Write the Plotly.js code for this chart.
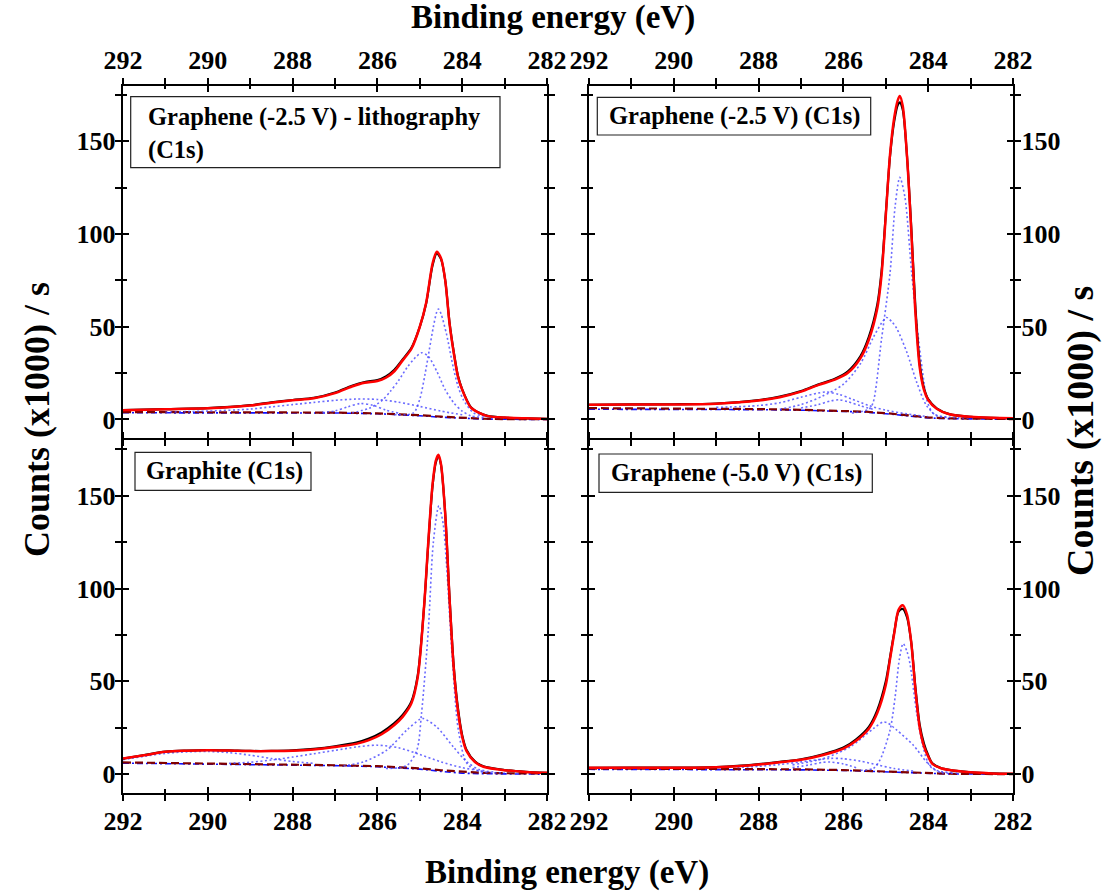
<!DOCTYPE html>
<html>
<head>
<meta charset="utf-8">
<script src="https://cdn.plot.ly/plotly-3.0.1.min.js"></script>
<style>
html,body{margin:0;padding:0;background:#fff;}
#chart{width:1106px;height:892px;}
</style>
</head>
<body>
<div id="chart"></div>
<script>
// ---------------- DATA (binding energy in eV, counts in x1000/s) ----------------
// Panel 1: Graphene (-2.5 V) - lithography
const tlE    = [292, 291, 290, 289, 288.5, 288, 287.5, 287, 286.6, 286.3, 286.0, 285.8, 285.6, 285.4, 285.2, 285.0, 284.85, 284.7, 284.6, 284.5, 284.4, 284.3, 284.2, 284.1, 284.0, 283.8, 283.6, 283.4, 283.0, 282.5, 282];
const tlData = [5.0, 5.6, 6.1, 7.7, 9.2, 10.5, 11.6, 14.5, 18.2, 20.2, 21.2, 23.2, 26.8, 32.5, 38.5, 50.0, 62.5, 83.0, 89.5, 86.5, 75.0, 52.5, 36.5, 23.5, 16.2, 6.8, 3.6, 1.9, 1.0, 0.6, 0.3];
const tlFit  = [5.0, 5.5, 6.0, 7.5, 9.0, 10.3, 11.4, 14.2, 17.8, 19.8, 20.7, 22.5, 26.0, 32.0, 38.0, 50.0, 63.0, 84.0, 90.5, 87.0, 75.0, 52.0, 36.0, 23.0, 16.0, 6.5, 3.5, 1.8, 1.0, 0.6, 0.3];
const tlC1E  = [285.6, 285.15, 285.0, 284.88, 284.78, 284.68, 284.6, 284.56, 284.5, 284.37, 284.21, 284.1, 283.97, 283.73, 283.4, 283.0];
const tlC1   = [2.6, 3.5, 11.0, 24.0, 37.0, 50.0, 58.0, 59.6, 57.0, 46.0, 28.0, 18.0, 10.5, 3.5, 1.5, 0.8];
const tlC2E  = [286.6, 286.2, 285.9, 285.7, 285.5, 285.3, 285.1, 284.95, 284.8, 284.6, 284.4, 284.2, 284.0, 283.8, 283.5];
const tlC2   = [3.5, 6.0, 10.0, 15.0, 21.0, 28.0, 33.5, 36.0, 34.0, 26.0, 16.0, 9.0, 4.5, 2.0, 1.0];
const tlC3E  = [291, 290, 289, 288.5, 288, 287.5, 287, 286.5, 286, 285.5, 285, 284.5, 284];
const tlC3   = [4.0, 4.5, 5.6, 6.8, 8.0, 9.2, 10.3, 11.0, 10.8, 9.3, 7.0, 4.5, 2.5];
const tlC4E  = [287.3, 287.0, 286.7, 286.4, 286.1, 285.8, 285.5];
const tlC4   = [3.8, 4.6, 6.8, 8.6, 7.6, 5.0, 3.4];

// background curves (shared energy grid)
const bgE    = [292, 290, 288, 287, 286, 285.5, 285, 284.5, 284, 283.5, 283, 282];
const tlBg   = [4.0, 4.0, 3.9, 3.7, 3.3, 2.9, 2.3, 1.5, 0.8, 0.4, 0.2, 0.1];
const tlBase = [3.6, 3.7, 3.7, 3.5, 3.1, 2.7, 2.0, 1.2, 0.5, 0.2, 0.1, 0.0];

// Panel 2: Graphene (-2.5 V)
const trE    = [292, 291, 290, 289, 288, 287.5, 287, 286.6, 286.2, 285.9, 285.6, 285.4, 285.2, 285.1, 285.0, 284.9, 284.8, 284.72, 284.67, 284.6, 284.5, 284.4, 284.3, 284.2, 284.1, 284.0, 283.8, 283.5, 283.0, 282.5, 282];
const trData = [7.9, 8.1, 8.2, 8.6, 10.4, 12.3, 15.3, 18.8, 22.0, 25.8, 34.0, 44.5, 62.0, 80.0, 111.0, 142.0, 161.0, 169.5, 171.0, 167.0, 142.0, 104.0, 60.0, 30.0, 17.0, 11.0, 6.0, 2.9, 1.4, 0.9, 0.7];
const trFit  = [7.9, 8.0, 8.1, 8.5, 10.2, 12.0, 15.0, 18.5, 21.5, 25.0, 33.0, 43.0, 60.0, 78.0, 110.0, 143.0, 163.0, 172.0, 174.5, 169.0, 142.0, 102.0, 57.0, 28.0, 16.0, 10.5, 5.8, 2.8, 1.4, 0.9, 0.7];
const trC1E  = [285.8, 285.4, 285.3, 285.1, 284.9, 284.78, 284.67, 284.55, 284.39, 284.23, 284.1, 284.04, 283.87, 283.5, 283.0];
const trC1   = [3.5, 5.5, 9.0, 43.5, 79.0, 115.0, 130.6, 120.0, 79.0, 43.5, 20.0, 11.0, 3.0, 1.2, 0.8];
const trC2E  = [287.5, 287.0, 286.5, 286.0, 285.6, 285.3, 285.1, 284.98, 284.85, 284.74, 284.5, 284.27, 284.04, 283.8, 283.5];
const trC2   = [5.5, 8.0, 12.5, 19.0, 30.0, 44.0, 52.0, 55.0, 52.5, 49.0, 36.0, 20.0, 7.5, 2.0, 1.0];
const trC3E  = [289, 288, 287.5, 287, 286.6, 286.4, 286.1, 285.8, 285.4, 285.0, 284.5, 284.0];
const trC3   = [6.5, 7.5, 9.0, 12.0, 14.2, 14.8, 13.5, 11.0, 7.5, 5.0, 3.0, 1.5];
const trC4E  = [287.0, 286.6, 286.3, 286.1, 285.9, 285.6, 285.3];
const trC4   = [6.2, 8.0, 10.0, 10.6, 9.6, 7.4, 5.5];
const trBg   = [6.1, 6.0, 5.6, 5.2, 4.7, 4.2, 3.4, 2.2, 1.1, 0.6, 0.4, 0.2];
const trBase = [5.5, 5.5, 5.3, 5.0, 4.5, 4.0, 3.1, 1.9, 0.8, 0.4, 0.2, 0.1];

// Panel 3: Graphite
const blE    = [292, 291.5, 291, 290.5, 290, 289.5, 289, 288.5, 288, 287.5, 287, 286.5, 286.2, 285.9, 285.6, 285.4, 285.2, 285.05, 284.9, 284.8, 284.7, 284.62, 284.56, 284.5, 284.4, 284.3, 284.2, 284.1, 284.0, 283.9, 283.7, 283.5, 283.0, 282.5, 282];
const blData = [8.4, 10.3, 12.1, 12.7, 13.0, 12.8, 12.5, 12.5, 12.8, 13.6, 15.0, 17.0, 19.2, 22.5, 27.5, 32.0, 39.0, 53.0, 90.0, 124.0, 155.0, 168.0, 171.0, 166.5, 140.0, 96.0, 58.5, 35.5, 21.0, 13.2, 6.9, 4.2, 2.2, 1.2, 0.7];
const blFit  = [8.4, 10.2, 12.0, 12.6, 12.9, 12.7, 12.4, 12.4, 12.6, 13.3, 14.6, 16.3, 18.3, 21.5, 26.5, 31.0, 38.0, 52.0, 90.0, 125.0, 156.0, 169.0, 172.0, 167.0, 140.0, 95.0, 57.0, 34.0, 20.0, 12.5, 6.5, 4.0, 2.1, 1.2, 0.7];
const blC1E  = [285.8, 285.31, 285.07, 284.96, 284.8, 284.68, 284.55, 284.45, 284.37, 284.25, 284.09, 283.89, 283.6, 283.0];
const blC1   = [3.0, 4.6, 12.9, 32.6, 77.4, 125.0, 144.6, 135.0, 113.0, 68.4, 23.7, 5.8, 1.5, 0.7];
const blC2E  = [286.8, 286.33, 285.78, 285.31, 285.0, 284.92, 284.6, 284.21, 283.89, 283.6, 283.2];
const blC2   = [4.5, 6.6, 12.9, 23.7, 29.5, 30.0, 25.4, 14.7, 6.6, 2.5, 1.0];
const blC3E  = [292, 291.5, 291, 290.5, 290, 289.5, 289, 288.5, 288, 287.5];
const blC3   = [7.8, 9.6, 11.2, 12.0, 12.2, 11.6, 10.2, 8.4, 6.8, 5.8];
const blC4E  = [289.5, 289, 288.5, 288, 287.5, 287, 286.5, 286, 285.5, 285, 284.5, 284, 283.5];
const blC4   = [5.8, 6.4, 7.6, 9.2, 11.0, 12.8, 14.6, 15.6, 14.2, 10.6, 6.6, 3.5, 1.5];
const blBg   = [6.3, 5.8, 5.2, 4.8, 4.3, 3.8, 3.1, 2.1, 1.2, 0.7, 0.5, 0.3];
const blBase = [5.9, 5.5, 5.0, 4.6, 4.0, 3.5, 2.7, 1.5, 0.5, 0.2, 0.1, 0.0];

// Panel 4: Graphene (-5.0 V)
const brE    = [292, 291, 290, 289, 288.5, 288, 287.5, 287, 286.5, 286, 285.7, 285.4, 285.2, 285.0, 284.9, 284.8, 284.7, 284.6, 284.5, 284.4, 284.3, 284.2, 284.1, 284.0, 283.9, 283.7, 283.5, 283, 282.5, 282];
const brData = [3.4, 3.5, 3.5, 3.8, 4.4, 5.4, 6.6, 8.0, 10.6, 14.3, 18.8, 25.5, 34.5, 50.0, 63.0, 76.5, 87.5, 89.0, 84.5, 71.0, 46.5, 26.5, 16.5, 10.2, 5.8, 3.3, 2.3, 1.0, 0.4, 0.2];
const brFit  = [3.4, 3.4, 3.4, 3.7, 4.2, 5.2, 6.4, 7.7, 10.2, 13.8, 18.0, 24.5, 33.0, 48.0, 62.0, 76.0, 88.5, 91.0, 86.0, 71.0, 45.0, 25.0, 15.0, 9.5, 5.5, 3.2, 2.2, 1.0, 0.4, 0.2];
const brC1E  = [285.6, 285.3, 285.14, 284.9, 284.78, 284.68, 284.59, 284.5, 284.43, 284.27, 284.12, 283.96, 283.7, 283.3];
const brC1   = [2.0, 3.0, 7.5, 23.7, 41.6, 62.0, 70.3, 66.0, 59.5, 32.6, 14.7, 4.3, 0.9, 0.5];
const brC2E  = [287.2, 286.47, 285.84, 285.29, 285.06, 284.95, 284.74, 284.35, 284.04, 283.8, 283.4];
const brC2   = [5.0, 8.4, 14.7, 24.6, 28.1, 27.5, 23.7, 15.6, 6.6, 2.0, 0.8];
const brC3E  = [288.5, 288, 287.5, 287, 286.6, 286.3, 286, 285.6, 285.2, 284.8, 284.3];
const brC3   = [3.6, 4.2, 5.2, 6.6, 7.8, 8.5, 8.3, 7.0, 5.0, 3.0, 1.5];
const brC4E  = [287.2, 286.8, 286.5, 286.3, 286.0, 285.7];
const brC4   = [3.5, 5.0, 6.3, 6.5, 5.5, 3.5];
const brBg   = [3.0, 3.0, 2.8, 2.6, 2.2, 1.8, 1.3, 0.8, 0.4, 0.2, 0.1, 0.0];
const brBase = [2.6, 2.6, 2.5, 2.3, 2.0, 1.6, 1.1, 0.6, 0.25, 0.1, 0.05, 0.0];

const panelLabels = [
  ["Graphene (-2.5 V) - lithography", "(C1s)"],
  ["Graphene (-2.5 V) (C1s)"],
  ["Graphite (C1s)"],
  ["Graphene (-5.0 V) (C1s)"]
];
const xTitle = "Binding energy (eV)";
const yTitle = "Counts (x1000) / s";
const xTicks = [292, 290, 288, 286, 284, 282];
const yTicks = [0, 50, 100, 150];

// ---------------- BUILD ----------------
const panels = [
  {E:tlE, data:tlData, fit:tlFit, comps:[[tlC1E,tlC1],[tlC2E,tlC2],[tlC3E,tlC3],[tlC4E,tlC4]], bg:tlBg, base:tlBase},
  {E:trE, data:trData, fit:trFit, comps:[[trC1E,trC1],[trC2E,trC2],[trC3E,trC3],[trC4E,trC4]], bg:trBg, base:trBase},
  {E:blE, data:blData, fit:blFit, comps:[[blC1E,blC1],[blC2E,blC2],[blC3E,blC3],[blC4E,blC4]], bg:blBg, base:blBase},
  {E:brE, data:brData, fit:brFit, comps:[[brC1E,brC1],[brC2E,brC2],[brC3E,brC3],[brC4E,brC4]], bg:brBg, base:brBase}
];

const traces = [];
panels.forEach((p, i) => {
  const n = i + 1;
  const xa = 'x' + (n === 1 ? '' : n), ya = 'y' + (n === 1 ? '' : n);
  const common = {type:'scatter', mode:'lines', xaxis:xa, yaxis:ya, showlegend:false, hoverinfo:'skip'};
  traces.push(Object.assign({}, common, {x:bgE, y:p.base, line:{color:'#1010ff', width:1.6, dash:'6px,3px,2px,3px'}}));
  traces.push(Object.assign({}, common, {x:bgE, y:p.bg, line:{color:'#800000', width:2.2, dash:'8px,4px'}}));
  p.comps.forEach(c => {
    traces.push(Object.assign({}, common, {x:c[0], y:c[1], line:{color:'rgba(70,70,255,0.8)', width:1.6, dash:'2px,2.5px', shape:'spline', smoothing:0.8}}));
  });
  traces.push(Object.assign({}, common, {x:p.E, y:p.data, line:{color:'#000000', width:2.2, shape:'spline', smoothing:0.8}}));
  traces.push(Object.assign({}, common, {x:p.E, y:p.fit, line:{color:'#ff0000', width:2.5, shape:'spline', smoothing:0.8}}));
  // helper traces so the overlay tick axes get drawn
  traces.push({type:'scatter', mode:'lines', x:[292], y:[0], xaxis:'x' + (n + 4), yaxis:ya, showlegend:false, hoverinfo:'skip', line:{width:0}});
  traces.push({type:'scatter', mode:'lines', x:[292], y:[0], xaxis:xa, yaxis:'y' + (n + 4), showlegend:false, hoverinfo:'skip', line:{width:0}});
});

const W = 1106, H = 892;
const fx = px => px / W;
const fy = py => 1 - py / H;
const tickFont = {family:'Liberation Serif, Times New Roman, serif', size:26, color:'#000', weight:'bold'};

const xDom = [[fx(123), fx(547)], [fx(589), fx(1013)], [fx(123), fx(547)], [fx(589), fx(1013)]];
const yDom = [[fy(438), fy(85.7)], [fy(438), fy(85.7)], [fy(792.7), fy(440)], [fy(792.7), fy(440)]];
const xSide = ['top', 'top', 'bottom', 'bottom'];
const ySide = ['left', 'right', 'left', 'right'];
const xStand = [-2, -2, -2, -2];
const yStand = [-6, -5, -6, -5];

const layout = {
  width: W, height: H,
  margin: {l:0, r:0, t:0, b:0, pad:0},
  paper_bgcolor: '#fff', plot_bgcolor: 'rgba(0,0,0,0)',
  showlegend: false,
  annotations: [], shapes: []
};

function baseX(ticks) {
  return {range:[292, 282], autorange:false, tickmode:'array', tickvals:xTicks,
    ticks:ticks, ticklen:6, tickwidth:2, tickcolor:'#000',
    minor:{dtick:1, tick0:282, ticks:ticks, ticklen:3.5, tickwidth:2, tickcolor:'#000', showgrid:false},
    mirror:'allticks', showgrid:false, zeroline:false, fixedrange:true, tickfont:tickFont};
}
function baseY(ticks) {
  return {range:[-10, 180], autorange:false, tickmode:'array', tickvals:yTicks,
    ticks:ticks, ticklen:6, tickwidth:2, tickcolor:'#000',
    minor:{dtick:25, tick0:0, ticks:ticks, ticklen:3.5, tickwidth:2, tickcolor:'#000', showgrid:false},
    mirror:'allticks', showgrid:false, zeroline:false, fixedrange:true, tickfont:tickFont};
}

for (let i = 0; i < 4; i++) {
  const n = i + 1;
  const sx = n === 1 ? '' : String(n);
  const xa = Object.assign(baseX('outside'), {domain:xDom[i], anchor:'y' + sx, side:xSide[i],
    showline:true, linewidth:2.2, linecolor:'#000', showticklabels:true, ticklabelstandoff:xStand[i]});
  const ya = Object.assign(baseY('outside'), {domain:yDom[i], anchor:'x' + sx, side:ySide[i],
    showline:true, linewidth:2.2, linecolor:'#000', showticklabels:true, ticklabelstandoff:yStand[i]});
  layout['xaxis' + sx] = xa;
  layout['yaxis' + sx] = ya;
  layout['xaxis' + (n + 4)] = Object.assign(baseX('inside'), {overlaying:'x' + sx, anchor:'y' + sx, side:xSide[i],
    showline:false, showticklabels:false});
  layout['yaxis' + (n + 4)] = Object.assign(baseY('inside'), {overlaying:'y' + sx, anchor:'x' + sx, side:ySide[i],
    showline:false, showticklabels:false});
}

// panel label boxes
const boxes = [
  [130.7, 96.7, 500, 167.7],
  [597.3, 97.3, 870.7, 135],
  [135, 452.3, 311, 490.3],
  [599, 454, 872.3, 492.3]
];
boxes.forEach(b => {
  layout.shapes.push({type:'rect', xref:'paper', yref:'paper', x0:fx(b[0]), x1:fx(b[2]), y0:fy(b[3]), y1:fy(b[1]),
    line:{color:'#222', width:1.2}, fillcolor:'rgba(255,255,255,0)'});
});
const labelPos = [[146, [116.7, 150]], [607, [116.2]], [144, [471.3]], [609, [473.2]]];
const labFont = {family:'Liberation Serif, Times New Roman, serif', size:24.5, color:'#000', weight:'bold'};
panelLabels.forEach((lines, i) => {
  lines.forEach((t, j) => {
    layout.annotations.push({xref:'paper', yref:'paper', x:fx(labelPos[i][0]), y:fy(labelPos[i][1][j]),
      xanchor:'left', yanchor:'middle', showarrow:false, text:t, font:labFont});
  });
});

// figure titles
const titleFontX = {family:'Liberation Serif, Times New Roman, serif', size:33, color:'#000', weight:'bold'};
const titleFontYL = {family:'Liberation Serif, Times New Roman, serif', size:36, color:'#000', weight:'bold'};
const titleFontYR = {family:'Liberation Serif, Times New Roman, serif', size:38, color:'#000', weight:'bold'};
layout.annotations.push({xref:'paper', yref:'paper', x:fx(553), y:fy(18), xanchor:'center', yanchor:'middle', showarrow:false, text:xTitle, font:titleFontX});
layout.annotations.push({xref:'paper', yref:'paper', x:fx(567), y:fy(872), xanchor:'center', yanchor:'middle', showarrow:false, text:xTitle, font:titleFontX});
layout.annotations.push({xref:'paper', yref:'paper', x:fx(37), y:fy(420), xanchor:'center', yanchor:'middle', showarrow:false, text:yTitle, textangle:-90, font:titleFontYL});
layout.annotations.push({xref:'paper', yref:'paper', x:fx(1080), y:fy(431), xanchor:'center', yanchor:'middle', showarrow:false, text:yTitle, textangle:-90, font:titleFontYR});

Plotly.newPlot('chart', traces, layout, {staticPlot:true, displayModeBar:false});
</script>
</body>
</html>
